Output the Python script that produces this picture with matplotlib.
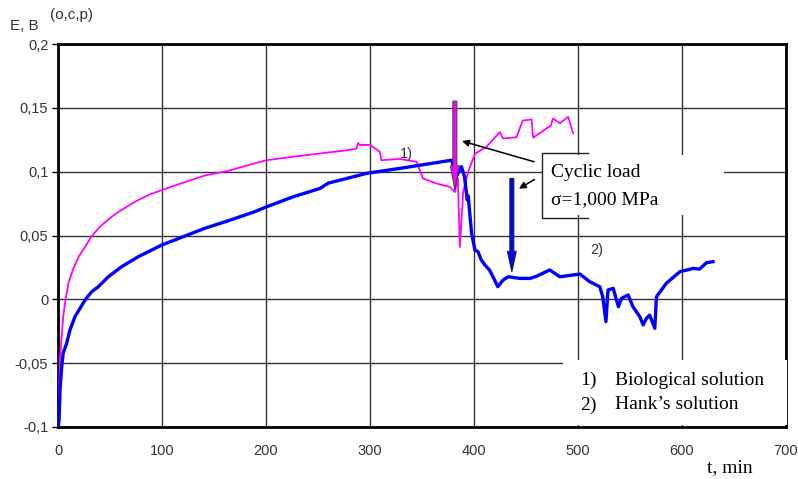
import matplotlib
matplotlib.use("Agg")
import matplotlib.pyplot as plt
import matplotlib.patches as patches
from matplotlib.ticker import FuncFormatter

# ── Data ──────────────────────────────────────────────────────────────────────
bio_t = [0, 1, 2, 3.5, 5, 6.7, 10, 14.7, 19.5, 26, 32, 40.4, 51.6, 61, 74,
         86.8, 99.7, 119, 141, 163.8, 189, 200.6, 226, 252, 275, 287,
         288.6, 290, 296.8, 300, 309.6, 311, 328.8, 345, 351, 364, 377, 381.7,
         384.6, 386.5, 389.7, 394.5, 401, 412, 425, 428, 441, 446, 447, 455.5,
         457, 470, 474, 476, 482.7, 490.7, 495.5]
bio_e = [-0.1, -0.07, -0.045, -0.029, -0.0136, -0.003, 0.0125, 0.024, 0.033,
         0.041, 0.049, 0.057, 0.0647, 0.070, 0.0764, 0.0817, 0.0856, 0.091,
         0.097, 0.1007, 0.1065, 0.109, 0.1117, 0.1143, 0.1165, 0.118,
         0.1226, 0.121, 0.121, 0.121, 0.1156, 0.109, 0.110, 0.1077, 0.0947,
         0.0908, 0.088, 0.084, 0.095, 0.041, 0.084, 0.0999, 0.114, 0.1195,
         0.131, 0.126, 0.127, 0.138, 0.140, 0.141, 0.1266, 0.134, 0.136,
         0.1417, 0.138, 0.143, 0.130]

hank_t = [0.5, 1, 2, 3.5, 5, 8.3, 11.5, 16.3, 26, 32.4, 38.8, 48.4, 61, 77.2,
          99.7, 122, 141, 163.8, 189, 200.6, 226, 252, 259.7, 277.6, 296.8,
          328.8, 378.6, 383, 388, 391, 393.6, 394.5, 397.8, 401, 404, 407,
          410.6, 415, 420, 423, 428, 433, 444, 454, 460, 473, 482.7, 502, 511.5,
          521, 524, 527, 529, 534, 539, 542, 548.4, 553, 559.6, 562.8, 566,
          569, 574, 575.6, 585, 598, 611, 617, 623.7, 630]
hank_e = [-0.098, -0.0945, -0.07, -0.053, -0.042, -0.0345, -0.024, -0.0136,
          -0.0005, 0.006, 0.0099, 0.0177, 0.0255, 0.0334, 0.0425, 0.0496,
          0.0556, 0.0616, 0.0686, 0.0725, 0.0803, 0.0869, 0.091, 0.0947,
          0.0987, 0.1026, 0.109, 0.096, 0.104, 0.096, 0.0778, 0.081, 0.0517,
          0.0386, 0.0373, 0.031, 0.0269, 0.023, 0.015, 0.0099, 0.0151, 0.0177,
          0.0164, 0.0164, 0.018, 0.023, 0.0177, 0.0198, 0.0138, 0.0099, 0.002,
          -0.0175, 0.0073, 0.0086, -0.0058, 0.0008, 0.0034, -0.0058, -0.0136,
          -0.02, -0.0149, -0.0123, -0.0227, 0.002, 0.0125, 0.0216, 0.0242,
          0.0237, 0.0287, 0.0295]

x_ticks = [0, 100, 200, 300, 400, 500, 600, 700]
y_ticks = [-0.1, -0.05, 0, 0.05, 0.1, 0.15, 0.2]

SANS = "Liberation Sans"
SERIF = "Liberation Serif"
MAGENTA = "#ff00ff"
BLUE = "#0000ff"

# ── Figure ────────────────────────────────────────────────────────────────────
fig = plt.figure(figsize=(7.98, 4.79), dpi=100)
ax = fig.add_axes([0.0727, 0.1086, 0.912, 0.7994])
ax.set_xlim(0, 700)
ax.set_ylim(-0.1, 0.2)
ax.set_xticks(x_ticks)
ax.set_yticks(y_ticks)


def comma_fmt(v, _):
    s = f"{v:g}"
    return "0" if s in ("0", "-0") else s.replace(".", ",")


ax.yaxis.set_major_formatter(FuncFormatter(comma_fmt))
ax.tick_params(axis="y", length=4, width=1, direction="out", pad=3,
               labelsize=10.5, labelcolor="#333333")
ax.tick_params(axis="x", length=0, pad=12, labelsize=10.5, labelcolor="#333333")
for lab in ax.get_xticklabels() + ax.get_yticklabels():
    lab.set_fontfamily(SANS)

ax.grid(True, color="#333333", lw=1.0, zorder=0)
ax.set_axisbelow(True)
for sp in ax.spines.values():
    sp.set_linewidth(2)
    sp.set_color("black")

# ── Curves ────────────────────────────────────────────────────────────────────
ax.plot(bio_t, bio_e, color=MAGENTA, lw=1.3, zorder=3)
ax.plot(hank_t, hank_e, color=BLUE, lw=2.4, zorder=4)

# ── Load arrows ───────────────────────────────────────────────────────────────
ax.arrow(381.7, 0.1553, 0, 0.0856 - 0.1553, width=3.8, head_width=8.5,
         head_length=0.019, length_includes_head=True,
         fc=MAGENTA, ec="#444444", lw=0.8, zorder=6)
ax.arrow(436.5, 0.0947, 0, 0.0216 - 0.0947, width=3.8, head_width=8.5,
         head_length=0.016, length_includes_head=True,
         fc=BLUE, ec="#222244", lw=0.8, zorder=6)

# ── Cyclic load box ───────────────────────────────────────────────────────────
ax.add_patch(patches.Rectangle((465.4, 0.066), 175, 0.047, fc="white",
                               ec="none", zorder=5))
ax.plot([509.6, 465.4, 465.4, 509.6], [0.1146, 0.1146, 0.0634, 0.0634],
        color="#222222", lw=1, zorder=6)
ax.text(474, 0.0995, "Cyclic load", family=SERIF, fontsize=14, va="center",
        zorder=7)
ax.text(474, 0.0785, "σ=1,000 MPa", family=SERIF, fontsize=14, va="center",
        zorder=7)
ax.annotate("", xy=(386, 0.1246), xytext=(460.5, 0.1072),
            arrowprops=dict(arrowstyle="-|>", color="black", lw=1.1,
                            mutation_scale=10), zorder=7)
ax.annotate("", xy=(441, 0.0856), xytext=(460.5, 0.0950),
            arrowprops=dict(arrowstyle="-|>", color="black", lw=1.1,
                            mutation_scale=10), zorder=7)

ax.text(335, 0.114, "1)", family=SANS, fontsize=10.5, color="#333333",
        ha="center", va="center", zorder=7)
ax.text(518, 0.0386, "2)", family=SANS, fontsize=10.5, color="#333333",
        ha="center", va="center", zorder=7)

# ── Legend box ────────────────────────────────────────────────────────────────
ax.add_patch(patches.Rectangle((485.6, -0.0984), 216, 0.0509, fc="white",
                               ec="none", zorder=5, clip_on=False))
ax.text(502, -0.0632, "1)", family=SERIF, fontsize=14, va="center", zorder=7)
ax.text(502, -0.0827, "2)", family=SERIF, fontsize=14, va="center", zorder=7)
ax.text(535.5, -0.0632, "Biological solution", family=SERIF, fontsize=14,
        va="center", zorder=7)
ax.text(535.5, -0.0827, "Hank\u2019s solution", family=SERIF, fontsize=14,
        va="center", zorder=7)

# ── Axis titles ───────────────────────────────────────────────────────────────
fig.text(0.013, 0.946, "E, B", family=SANS, fontsize=11, color="#333333",
         va="center")
fig.text(0.063, 0.968, "(o,c,p)", family=SANS, fontsize=11, color="#333333",
         va="center")
fig.text(0.886, 0.023, "t, min", family=SERIF, fontsize=14, va="center")

fig.savefig("out.png", dpi=100)
